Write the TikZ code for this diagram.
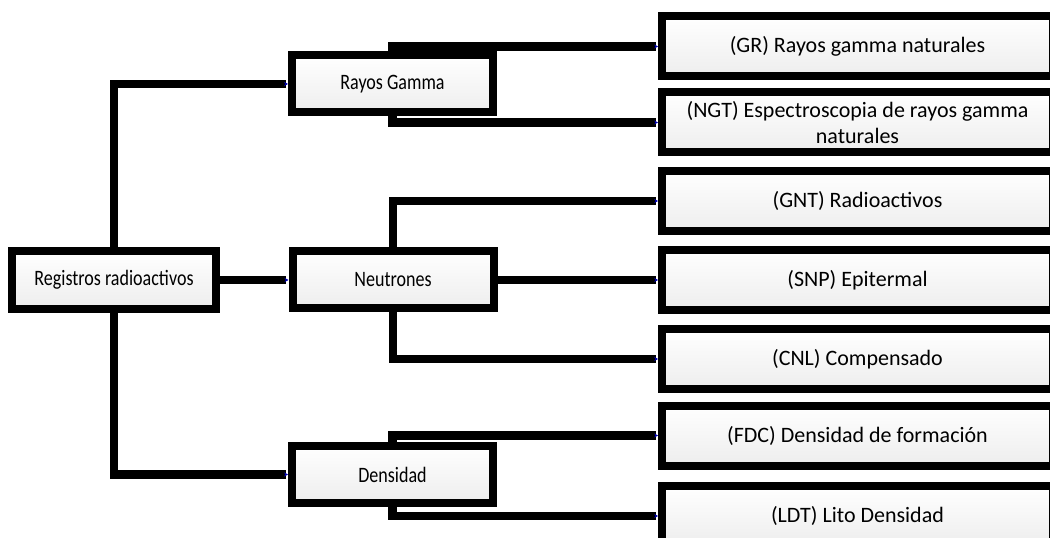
\documentclass[tikz,border=0pt]{standalone}
\usepackage{fontspec}
\setmainfont{Carlito}
\usetikzlibrary{arrows.meta,backgrounds}

\newcommand{\narrowtext}[1]{\scalebox{0.82}[1]{#1}}

\tikzset{
  box/.style={draw=black, line width=6pt, top color=white, bottom color=black!7,
    inner sep=2pt, align=center, font=\fontsize{16.5}{20}\selectfont},
  midbox/.style={box, minimum width=150.75pt, minimum height=42.75pt},
  leaf/.style={box, minimum width=293pt, minimum height=45pt},
  link/.style={line width=6.5pt, -{Stealth[length=3pt,width=3pt,blue!70!black]}}
}

\begin{document}
\begin{tikzpicture}[x=0.75pt, y=-0.75pt]
        \useasboundingbox (0,0) rectangle (1050,538);
        % boxes
        \node[box, minimum width=153pt, minimum height=43.5pt] (root) at (114,280) {\narrowtext{Registros radioactivos}};
        \node[midbox] (gamma) at (392.5,84) {\narrowtext{Rayos Gamma}};
        \node[midbox] (neutron) at (393,280) {\narrowtext{Neutrones}};
        \node[midbox] (dens) at (392.5,474.5) {\narrowtext{Densidad}};
        \node[leaf] (gr) at (857.5,46.5) {(GR) Rayos gamma naturales};
        \node[leaf] (ngt) at (857.5,122.5) {(NGT) Espectroscopia de rayos gamma\\naturales};
        \node[leaf] (gnt) at (857.5,201) {(GNT) Radioactivos};
        \node[leaf] (snp) at (857.5,280) {(SNP) Epitermal};
        \node[leaf] (cnl) at (857.5,359) {(CNL) Compensado};
        \node[leaf] (fdc) at (857.5,435.5) {(FDC) Densidad de formación};
        \node[leaf] (ldt) at (857.5,516) {(LDT) Lito Densidad};
        % connectors
        \begin{scope}[on background layer]
            \draw[link] (root.north) |- (gamma.west);
            \draw[link] (root.east) -- (neutron.west);
            \draw[link] (root.south) |- (dens.west);
            \draw[link] (gamma.north) |- (gr.west);
            \draw[link] (gamma.south) |- (ngt.west);
            \draw[link] (neutron.north) |- (gnt.west);
            \draw[link] (neutron.east) -- (snp.west);
            \draw[link] (neutron.south) |- (cnl.west);
            \draw[link] (dens.north) |- (fdc.west);
            \draw[link] (dens.south) |- (ldt.west);
        \end{scope}
\end{tikzpicture}
\end{document}
